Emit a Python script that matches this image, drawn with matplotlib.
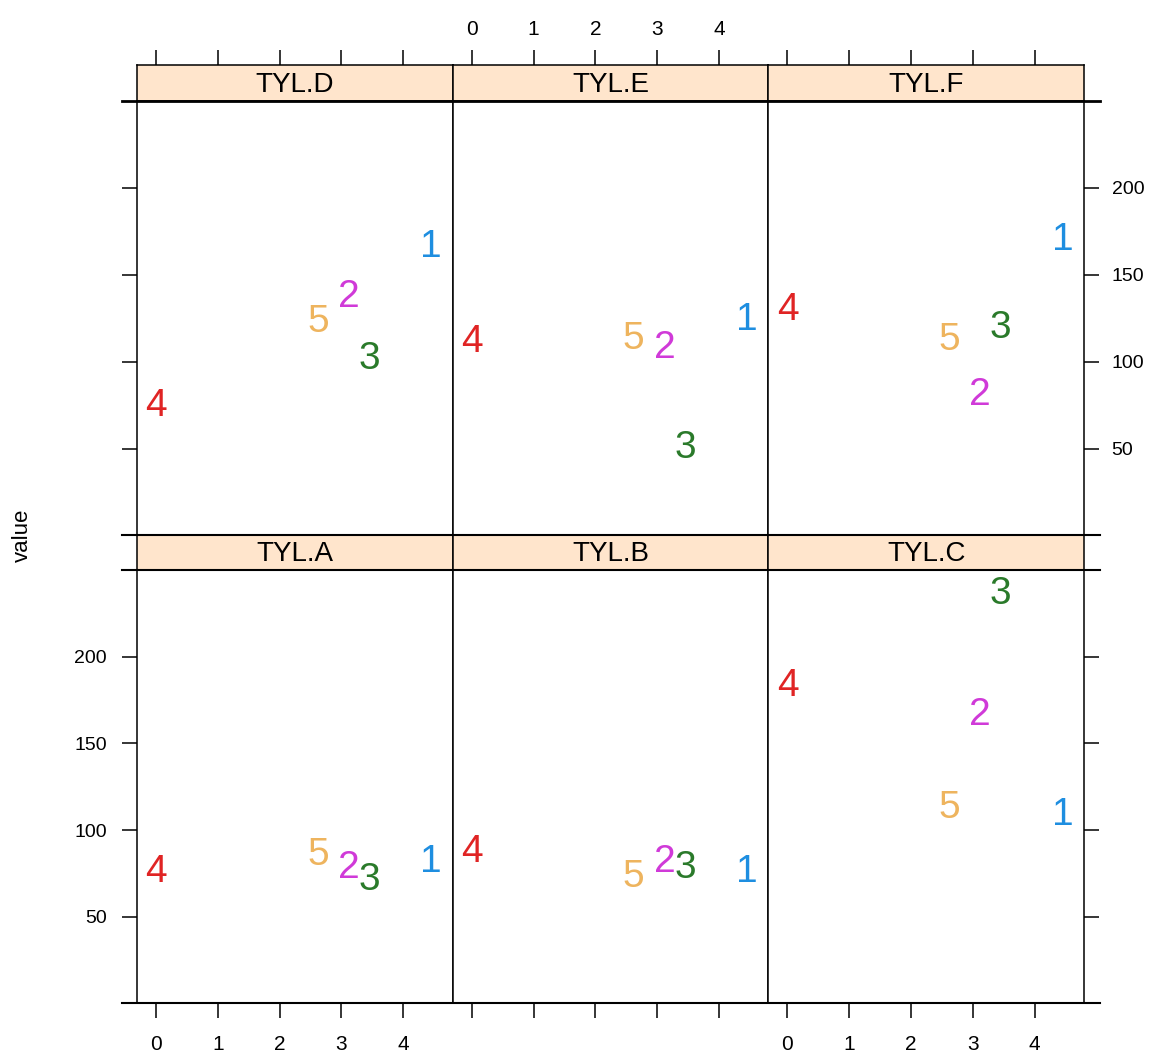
import numpy as np
import matplotlib.pyplot as plt
from matplotlib.lines import Line2D

plt.rcParams['font.family'] = ['Liberation Sans', 'DejaVu Sans']

# groups drawn as digits, their x position and colour
groups = ['1', '2', '3', '4', '5']
group_x = [4.45, 3.12, 3.45, 0.0, 2.62]
group_colors = ['#1e8ee0', '#d03ad8', '#2a7a2a', '#e02424', '#eeb45e']

# values per panel (order: groups 1..5)
tyl_a = [81.7, 78.3, 71.3, 76.0, 85.8]
tyl_b = [76.0, 81.7, 78.3, 87.5, 73.1]
tyl_c = [108.8, 166.5, 236.3, 183.3, 112.9]
tyl_d = [165.8, 137.3, 101.9, 74.5, 123.0]
tyl_e = [124.1, 108.2, 50.6, 111.6, 113.3]
tyl_f = [169.8, 80.8, 119.6, 129.8, 112.7]

# layout: top row then bottom row
panel_names = [['TYL.D', 'TYL.E', 'TYL.F'], ['TYL.A', 'TYL.B', 'TYL.C']]
panel_values = [[tyl_d, tyl_e, tyl_f], [tyl_a, tyl_b, tyl_c]]

x_ticks = [0, 1, 2, 3, 4]
y_ticks = [50, 100, 150, 200]

W, H = 1165, 1061
fig = plt.figure(figsize=(W / 100, H / 100), dpi=100)


def frac(x0, top, w, h):
    return [x0 / W, 1 - (top + h) / H, w / W, h / H]


left0 = 137
pw = (1084 - 137) / 3.0
strip_top = [65, 535]
strip_h = [36, 35]
panel_top = [101, 570]
panel_h = [434, 433]
tick_len = 10.8
lw = 1.1

for r in range(2):
    for c in range(3):
        x0 = left0 + c * pw
        ax = fig.add_axes(frac(x0, panel_top[r], pw, panel_h[r]))
        ax.set_xlim(-0.31, 4.80)
        ax.set_ylim(0.4, 250)
        vals = panel_values[r][c]
        for g, gx, gy, col in zip(groups, group_x, vals, group_colors):
            ax.text(gx, gy, g, color=col, fontsize=28, ha='center', va='center')
        for s in ax.spines.values():
            s.set_linewidth(lw)

        # x axis
        if r == 1:
            ax.set_xticks(x_ticks)
            ax.tick_params(axis='x', direction='out', length=tick_len, width=lw,
                           labelsize=15, pad=12, bottom=True)
            if c == 1:
                ax.set_xticklabels([])
        else:
            ax.set_xticks([])

        # y axis
        if c == 0:
            ax.set_yticks(y_ticks)
            ax.tick_params(axis='y', direction='out', length=tick_len, width=lw,
                           labelsize=14, pad=11, left=True)
            if r == 0:
                ax.set_yticklabels([])
        elif c == 2:
            ax.set_yticks(y_ticks)
            ax.yaxis.tick_right()
            ax.tick_params(axis='y', direction='out', length=tick_len, width=lw,
                           labelsize=14, pad=9, right=True, left=False)
            if r == 1:
                ax.set_yticklabels([])
        else:
            ax.set_yticks([])

        # strip
        sax = fig.add_axes(frac(x0, strip_top[r], pw, strip_h[r]))
        sax.set_facecolor('#ffe5cc')
        sax.set_xlim(-0.31, 4.80)
        sax.set_yticks([])
        for s in sax.spines.values():
            s.set_linewidth(lw)
        sax.text(0.5, 0.45, panel_names[r][c], transform=sax.transAxes,
                 ha='center', va='center', fontsize=20)
        if r == 0:
            sax.set_xticks(x_ticks)
            sax.xaxis.tick_top()
            sax.tick_params(axis='x', direction='out', length=tick_len, width=lw,
                            labelsize=15, pad=8, top=True, bottom=False)
            if c != 1:
                sax.set_xticklabels([])
        else:
            sax.set_xticks([])

# horizontal rules reaching past the panel block
for py, w in [(101, 2.0), (535, 1.5), (570, 1.5), (1003, 1.5)]:
    fig.add_artist(Line2D([122 / W, 1100 / W], [1 - py / H, 1 - py / H],
                          color='black', linewidth=w))

fig.text(22 / W, 1 - 535 / H, 'value', rotation=90, fontsize=16,
         ha='center', va='center')

fig.savefig('out.png', dpi=100)
